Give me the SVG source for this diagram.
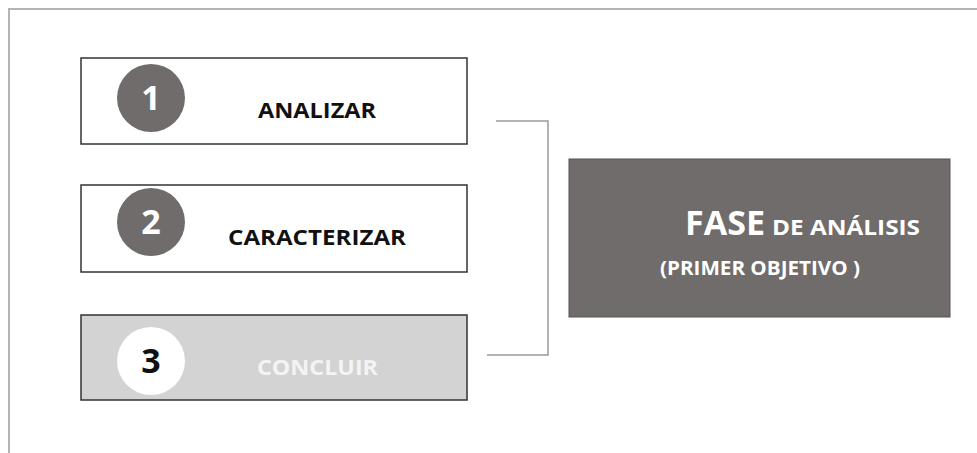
<svg xmlns="http://www.w3.org/2000/svg" width="977" height="453" viewBox="0 0 977 453">
<style>
.box{stroke:#333;stroke-width:1.5}
.t{font-family:"Open Sans","Liberation Sans",Arial,sans-serif;font-weight:bold}
.conn{fill:none;stroke:#9a9a9a;stroke-width:1.5}
</style>
<rect width="977" height="453" fill="#fff"/>
<path d="M9,453 V9 H977" fill="none" stroke="#b4b4b4" stroke-width="2"/>
<g id="connectors">
<path class="conn" d="M496,121 H548 V355 H487"/>
</g>
<g id="node1">
<rect class="box" x="81" y="58" width="386" height="86" fill="#fff"/>
<circle cx="151" cy="98" r="34" fill="#6f6c6b"/>
<text class="t" x="151" y="110" font-size="34" fill="#fff" text-anchor="middle">1</text>
<text class="t" x="258" y="118" font-size="21" fill="#111" textLength="118" lengthAdjust="spacingAndGlyphs">ANALIZAR</text>
</g>
<g id="node2">
<rect class="box" x="81" y="185" width="386" height="87" fill="#fff"/>
<circle cx="151" cy="222" r="34" fill="#6f6c6b"/>
<text class="t" x="151" y="234" font-size="34" fill="#fff" text-anchor="middle">2</text>
<text class="t" x="228" y="245" font-size="21" fill="#111" textLength="178" lengthAdjust="spacingAndGlyphs">CARACTERIZAR</text>
</g>
<g id="node3">
<rect class="box" x="81" y="315" width="386" height="85" fill="#d3d3d3"/>
<circle cx="151" cy="361" r="34" fill="#fff"/>
<text class="t" x="151" y="373" font-size="34" fill="#111" text-anchor="middle">3</text>
<text class="t" x="257" y="375" font-size="21" fill="#f4f4f4" textLength="121" lengthAdjust="spacingAndGlyphs">CONCLUIR</text>
</g>
<g id="fase">
<rect x="569" y="159" width="381" height="158" fill="#6f6c6b" stroke="#555" stroke-width="1"/>
<text class="t" x="685" y="235" font-size="34" fill="#fff" textLength="80" lengthAdjust="spacingAndGlyphs">FASE</text>
<text class="t" x="772" y="235" font-size="21" fill="#fff" textLength="148" lengthAdjust="spacingAndGlyphs">DE ANÁLISIS</text>
<text class="t" x="660" y="275" font-size="19" fill="#fff" textLength="200" lengthAdjust="spacingAndGlyphs">(PRIMER OBJETIVO )</text>
</g>
</svg>
